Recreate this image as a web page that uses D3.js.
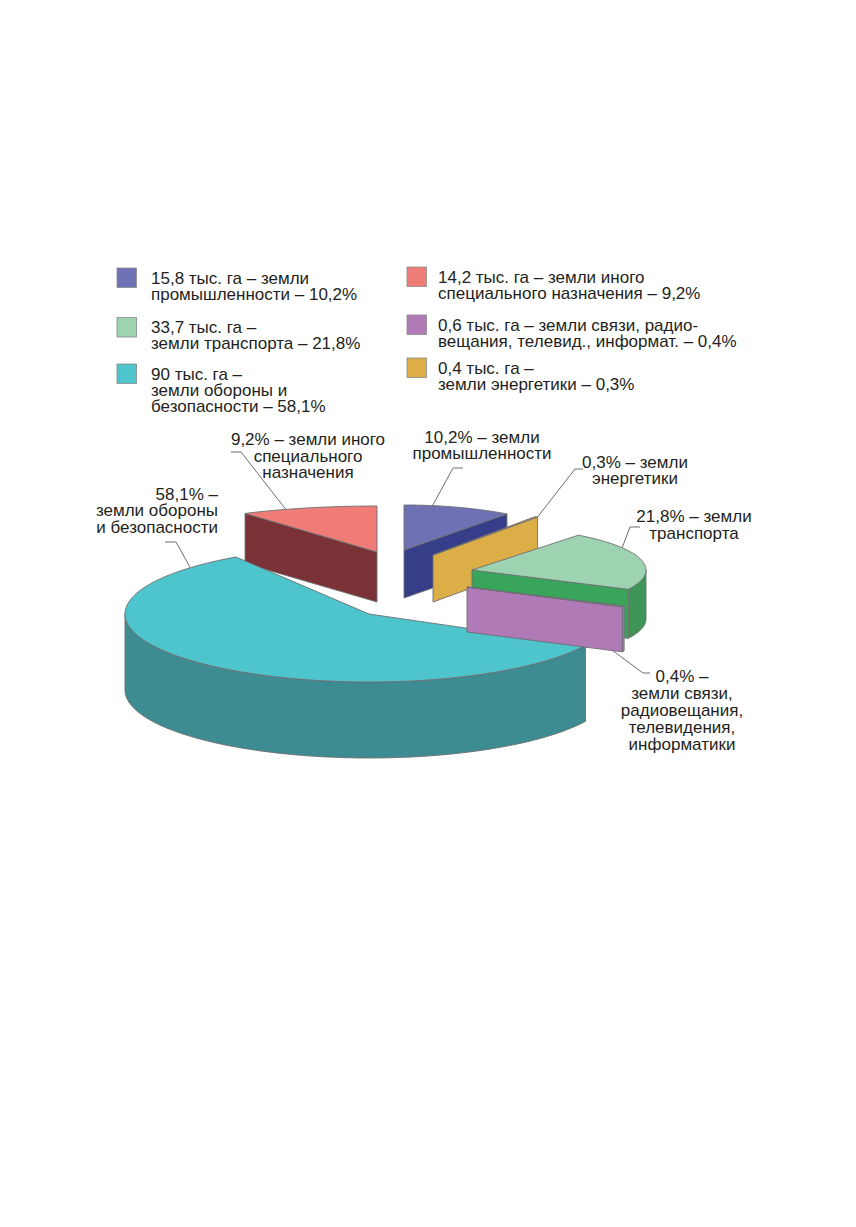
<!DOCTYPE html>
<html>
<head>
<meta charset="utf-8">
<script src="https://cdn.jsdelivr.net/npm/d3@7/dist/d3.min.js"></script>
<style>
  html, body { margin: 0; padding: 0; background: #fff; }
  svg { display: block; }
  text { font-family: "Liberation Sans", Arial, Helvetica, sans-serif; font-size: 17px; fill: #231f20; }
</style>
</head>
<body>
<div id="chart"></div>
<script>
// ---------------- DATA (pie order, clockwise from 12 o'clock) ----------------
const categories = [
  "промышленности",
  "энергетики",
  "транспорта",
  "связи, радиовещания, телевидения, информатики",
  "обороны и безопасности",
  "иного специального назначения"
];
const areaThousandHa = [15.8, 0.4, 33.7, 0.6, 90, 14.2];
const percentLabels = ["10,2%", "0,3%", "21,8%", "0,4%", "58,1%", "9,2%"];

// legend text (manual line breaks as in the original)
const legendLines = [
  ["15,8 тыс. га – земли", "промышленности – 10,2%"],
  ["0,4 тыс. га –", "земли энергетики – 0,3%"],
  ["33,7 тыс. га –", "земли транспорта – 21,8%"],
  ["0,6 тыс. га – земли связи, радио-", "вещания, телевид., информат. – 0,4%"],
  ["90 тыс. га –", "земли обороны и", "безопасности – 58,1%"],
  ["14,2 тыс. га – земли иного", "специального назначения – 9,2%"]
];
// callout text on the chart
const calloutLines = [
  ["10,2% – земли", "промышленности"],
  ["0,3% – земли", "энергетики"],
  ["21,8% – земли", "транспорта"],
  ["0,4% –", "земли связи,", "радиовещания,", "телевидения,", "информатики"],
  ["58,1% –", "земли обороны", "и безопасности"],
  ["9,2% – земли иного", "специального", "назначения"]
];

// ---------------- STYLES ----------------
const sliceColors = [
  { top: "#6e72b5", radial: "#363e8a", outer: "#363e8a" },
  { top: "#dcae48", radial: "#dcae48", outer: "#dcae48" },
  { top: "#9dd3b0", radial: "#38a55a", outer: "#3f9458" },
  { top: "#b07ab6", radial: "#b07ab6", outer: "#b07ab6" },
  { top: "#4ec4cc", radial: "#3d8c92", outer: "#3d8c92" },
  { top: "#f07c78", radial: "#7a3236", outer: "#7a3236" }
];
const legendColors = sliceColors.map(c => c.top);
const strokeColor = "#6d6e71";

// ---------------- LAYOUT ----------------
const W = 856, H = 1227;
const base = { cx: 369, cy: 614 };
// explode offset, radii and depth per slice (hand-drawn perspective of the original)
const sliceLayout = [
  { dx: 35,  dy: -64, rx: 172, ry: 45, h: 48 },
  { dx: 64,  dy: -59, rx: 171, ry: 48, h: 47 },
  { dx: 103, dy: -44, rx: 174, ry: 44, h: 49 },
  { dx: 98,  dy: -27, rx: 175, ry: 43, h: 45 },
  { dx: 0,   dy: 0,   rx: 244, ry: 68, h: 76 },
  { dx: 8,   dy: -62, rx: 242, ry: 46, h: 50 }
];
const drawOrder = [5, 0, 4, 1, 2, 3];

// legend layout: column, swatch top
const legendLayout = [
  { col: 0, top: 268 }, { col: 1, top: 358 },
  { col: 0, top: 317.5 }, { col: 1, top: 315 },
  { col: 0, top: 364 }, { col: 1, top: 267 }
];
const legendCols = [{ sx: 117, tx: 151 }, { sx: 407, tx: 438 }];

// callout layout: anchor (fraction along arc or face), elbow, text
const calloutLayout = [
  { anchor: { type: "arc", t: 0.26 }, elbow: [[453, 468], [463, 468]], x: 482, y: 443, anchorText: "middle", lh: 16 },
  { anchor: { type: "faceTop", t: 1 }, elbow: [[575, 469], [583, 469]], x: 635, y: 468, anchorText: "middle", lh: 16 },
  { anchor: { type: "arc", t: 0.28 }, elbow: [[630, 527], [640, 527]], x: 694, y: 522, anchorText: "middle", lh: 16.5 },
  { anchor: { type: "faceBottom", t: 0.94 }, elbow: [[643, 673], [650, 673]], x: 682, y: 682, anchorText: "middle", lh: 16.9 },
  { anchor: { type: "arc", t: 0.933 }, elbow: [[176, 542], [165, 542]], x: 218, y: 500, anchorText: "end", lh: 16.25 },
  { anchor: { type: "arc", t: 0.33 }, elbow: [[241, 452], [231, 452]], x: 308, y: 445, anchorText: "middle", lh: 16.5 }
];

// ---------------- DRAW ----------------
const svg = d3.select("#chart").append("svg")
  .attr("width", W).attr("height", H)
  .attr("viewBox", `0 0 ${W} ${H}`);
svg.append("rect").attr("width", W).attr("height", H).attr("fill", "#fff");

const arcs = d3.pie().sort(null).value(d => d)(areaThousandHa);

const geoms = arcs.map((a, i) => {
  const L = sliceLayout[i];
  return {
    cx: base.cx + L.dx, cy: base.cy + L.dy, rx: L.rx, ry: L.ry, h: L.h,
    p0: a.startAngle - Math.PI / 2,
    p1: a.endAngle - Math.PI / 2
  };
});

function pt(g, phi, z) {
  return [g.cx + g.rx * Math.cos(phi), g.cy + g.ry * Math.sin(phi) + (z || 0)];
}
function arcPts(g, a0, a1, z) {
  const n = Math.max(2, Math.ceil(Math.abs(a1 - a0) / 0.02));
  return d3.range(n + 1).map(k => pt(g, a0 + (a1 - a0) * k / n, z));
}
const line = d3.line();
const closed = pts => line(pts) + "Z";

const pieG = svg.append("g");

drawOrder.forEach(i => {
  const g = geoms[i], c = sliceColors[i];
  const sg = pieG.append("g");
  const center = [g.cx, g.cy], centerB = [g.cx, g.cy + g.h];

  // outer curved side: visible where sin(phi) > 0
  for (let k = -1; k <= 1; k++) {
    const lo = Math.max(g.p0, 2 * Math.PI * k), hi = Math.min(g.p1, 2 * Math.PI * k + Math.PI);
    if (hi > lo + 1e-4) {
      const top = arcPts(g, lo, hi, 0), bot = arcPts(g, hi, lo, g.h);
      sg.append("path").attr("d", closed(top.concat(bot)))
        .attr("fill", c.outer).attr("stroke", strokeColor).attr("stroke-width", 0.9)
        .attr("stroke-linejoin", "round");
    }
  }
  // radial faces
  if (Math.cos(g.p0) < -1e-6) {
    const o = pt(g, g.p0, 0), ob = pt(g, g.p0, g.h);
    sg.append("path").attr("d", closed([center, o, ob, centerB]))
      .attr("fill", c.radial).attr("stroke", strokeColor).attr("stroke-width", 0.9)
      .attr("stroke-linejoin", "round");
  }
  if (Math.cos(g.p1) > 1e-6) {
    const o = pt(g, g.p1, 0), ob = pt(g, g.p1, g.h);
    sg.append("path").attr("d", closed([center, o, ob, centerB]))
      .attr("fill", c.radial).attr("stroke", strokeColor).attr("stroke-width", 0.9)
      .attr("stroke-linejoin", "round");
  }
  // top face
  sg.append("path").attr("d", closed([center].concat(arcPts(g, g.p0, g.p1, 0))))
    .attr("fill", c.top).attr("stroke", strokeColor).attr("stroke-width", 0.9)
    .attr("stroke-linejoin", "round");
});

// callouts
const calloutG = svg.append("g");
calloutLayout.forEach((cl, i) => {
  const g = geoms[i];
  let a;
  if (cl.anchor.type === "arc") {
    a = pt(g, g.p0 + (g.p1 - g.p0) * cl.anchor.t, 0);
  } else if (cl.anchor.type === "faceTop") {
    const o = pt(g, g.p1, 0);
    a = [g.cx + (o[0] - g.cx) * cl.anchor.t, g.cy + (o[1] - g.cy) * cl.anchor.t];
  } else {
    const o = pt(g, g.p1, g.h);
    a = [g.cx + (o[0] - g.cx) * cl.anchor.t, g.cy + g.h + (o[1] - g.cy - g.h) * cl.anchor.t];
  }
  calloutG.append("path")
    .attr("d", line([a].concat(cl.elbow)))
    .attr("fill", "none").attr("stroke", "#6d6e71").attr("stroke-width", 1);
  const t = calloutG.append("text")
    .attr("text-anchor", cl.anchorText);
  calloutLines[i].forEach((s, j) => {
    t.append("tspan").attr("x", cl.x).attr("y", cl.y + j * cl.lh).text(s);
  });
});

// legend
const legendG = svg.append("g");
legendLayout.forEach((L, i) => {
  const col = legendCols[L.col];
  legendG.append("rect")
    .attr("x", col.sx).attr("y", L.top).attr("width", 19.5).attr("height", 19.5)
    .attr("fill", legendColors[i]).attr("stroke", "#8a8a8a").attr("stroke-width", 0.8);
  const t = legendG.append("text");
  legendLines[i].forEach((s, j) => {
    t.append("tspan").attr("x", col.tx).attr("y", L.top + 15.5 + j * 16).text(s);
  });
});
</script>
</body>
</html>
